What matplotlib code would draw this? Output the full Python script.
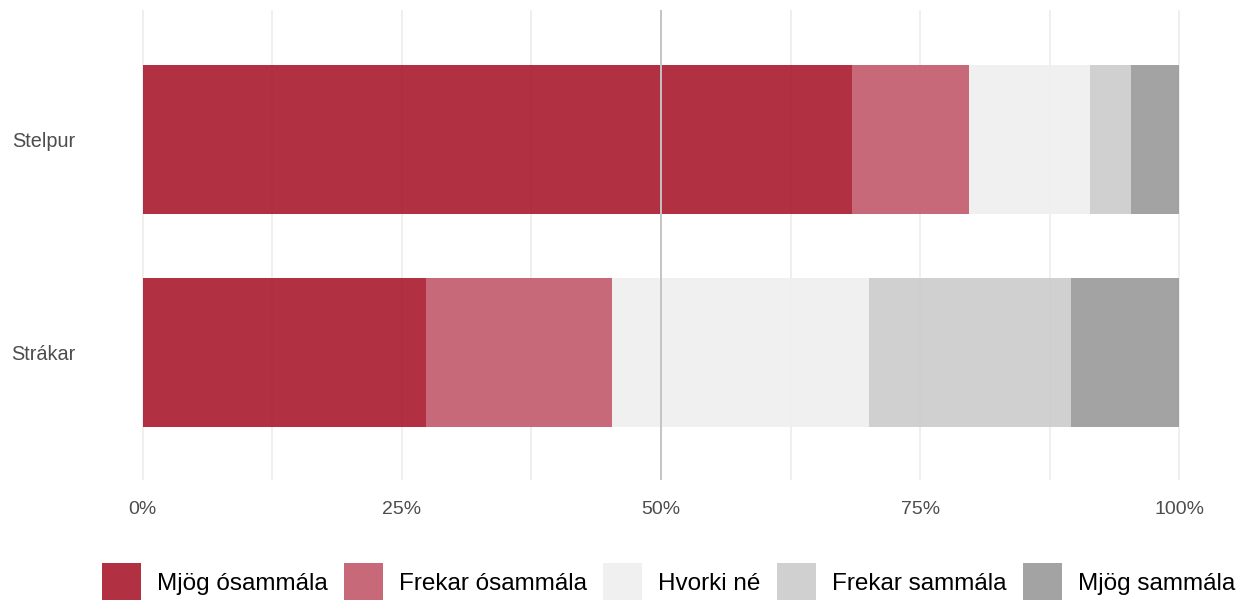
import matplotlib
matplotlib.use("Agg")

import numpy as np
import matplotlib.pyplot as plt
from matplotlib.ticker import FixedLocator, FuncFormatter

plt.rcParams["font.family"] = ["Liberation Sans", "DejaVu Sans"]

groups = ["Strákar", "Stelpur"]
levels = ["Mjög ósammála", "Frekar ósammála", "Hvorki né", "Frekar sammála", "Mjög sammála"]
strakar = [27.35, 17.95, 24.8, 19.5, 10.4]
stelpur = [68.45, 11.3, 11.65, 3.95, 4.65]
colors = ["#a9192d", "#c2596a", "#efefef", "#cbcbcb", "#999999"]

values = np.array([strakar, stelpur]) / 100.0

fig = plt.figure(figsize=(12.47, 6), dpi=100)
ax = fig.add_axes([91 / 1247, 120 / 600, 1140 / 1247, 470 / 600])

y = np.arange(len(groups))
left = np.zeros(len(groups))
handles = []
for i, lev in enumerate(levels):
    b = ax.barh(y, values[:, i], left=left, height=0.7, color=colors[i],
                alpha=0.9, linewidth=0, zorder=2, label=lev)
    handles.append(b)
    left += values[:, i]

# 50% reference line sits on top of the bars
ax.axvline(0.5, color="#c4c4c4", linewidth=1.4, zorder=3)

ax.set_xlim(-0.05, 1.05)
ax.set_ylim(-0.60, 1.61)
ax.xaxis.set_major_locator(FixedLocator([0, 0.25, 0.5, 0.75, 1.0]))
ax.xaxis.set_minor_locator(FixedLocator([0.125, 0.375, 0.625, 0.875]))
ax.xaxis.set_major_formatter(FuncFormatter(lambda v, p: f"{v * 100:.0f}%"))
ax.set_yticks(y)
ax.set_yticklabels(groups)

ax.grid(axis="x", which="both", color="#ebebeb", linewidth=1.1, zorder=1)
ax.set_axisbelow(True)
for s in ax.spines.values():
    s.set_visible(False)
ax.tick_params(axis="x", which="both", length=0, pad=15, labelsize=14, labelcolor="#4d4d4d")
ax.tick_params(axis="y", length=0, pad=11, labelsize=14.3, labelcolor="#4d4d4d")

leg = fig.legend(handles=handles, labels=levels, loc="center",
                 bbox_to_anchor=(668.5 / 1247, 1 - 582 / 600), ncol=5,
                 frameon=False, fontsize=17.5, handlelength=1.6, handleheight=2.05,
                 handletextpad=0.66, columnspacing=0.68, borderpad=0)

fig.savefig("out.png", dpi=100)
